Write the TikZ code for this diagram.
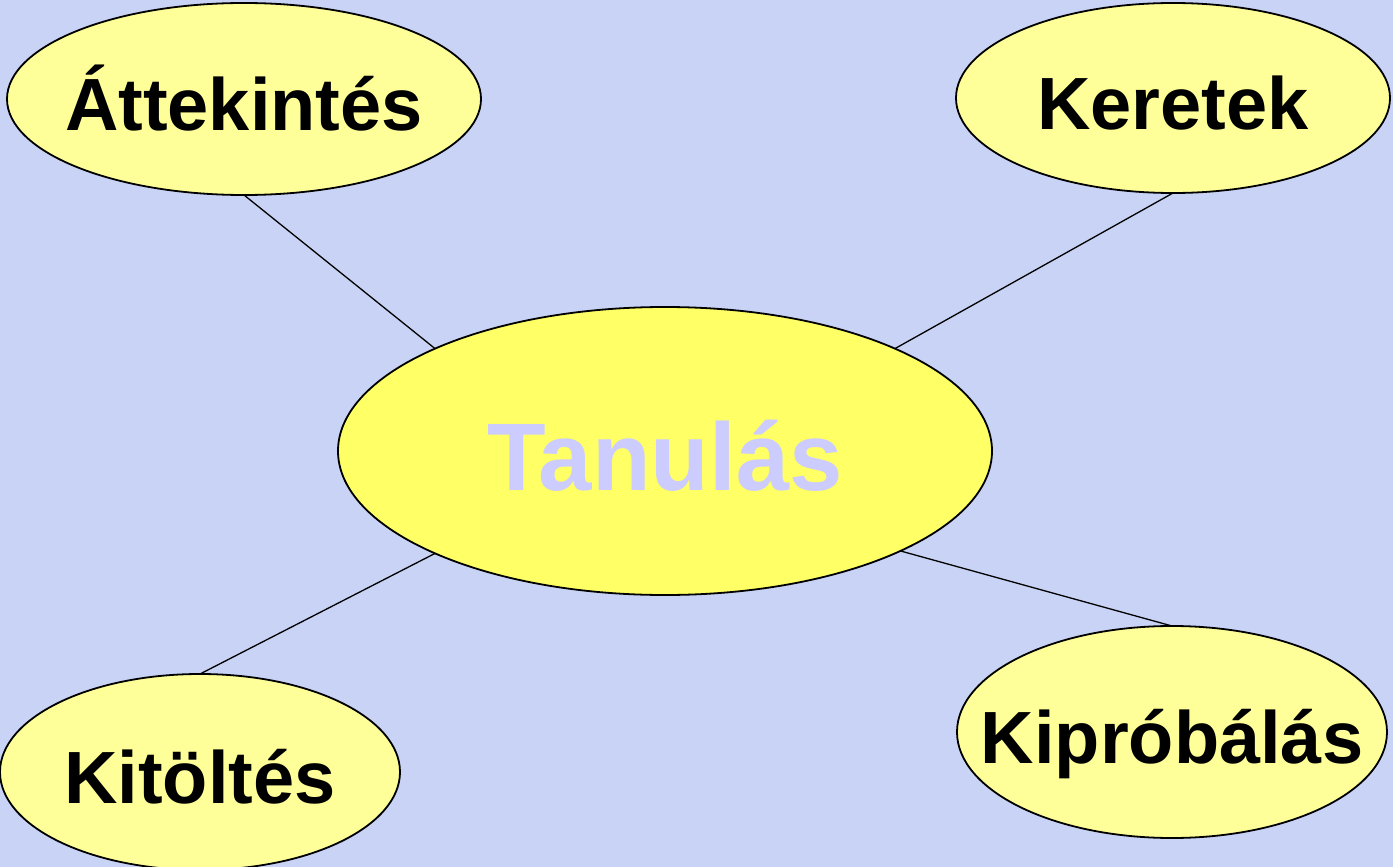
\documentclass[tikz,border=0pt]{standalone}
\usepackage{fontspec}
\setmainfont{Liberation Sans}
\usetikzlibrary{shapes.geometric}
\definecolor{bgblue}{RGB}{200,211,245}
\definecolor{palebubble}{RGB}{255,255,153}
\definecolor{mainbubble}{RGB}{255,255,102}
\definecolor{titlelilac}{RGB}{204,204,255}
\begin{document}
\begin{tikzpicture}[x=1pt,y=-1pt,line width=1.3pt,
	bubble/.style={ellipse,draw,line width=1.8pt,fill=palebubble,inner sep=0pt,outer sep=0pt},
	word/.style={font=\bfseries\fontsize{74}{80}\selectfont,text height=62pt,text depth=0pt,inner sep=0pt}]
		\fill[bgblue] (0,0) rectangle (1393,867);
		\useasboundingbox (0,0) rectangle (1393,867);
		\node[bubble,minimum width=474pt,minimum height=192pt,label={[word]center:Áttekintés}] (att) at (244,99) {};
		\node[bubble,minimum width=434pt,minimum height=190pt,label={[word]center:Keretek}] (ker) at (1173,98) {};
		\node[bubble,minimum width=400pt,minimum height=196pt,label={[word]center:Kitöltés}] (kit) at (200,772) {};
		\node[bubble,minimum width=430pt,minimum height=212pt,label={[word]center:Kipróbálás}] (kip) at (1172,732) {};
		\node[bubble,fill=mainbubble,minimum width=654pt,minimum height=288pt,label={[word,font=\bfseries\fontsize{96}{104}\selectfont,text=titlelilac,text height=78pt]center:Tanulás}] (tan) at (665,451) {};
		\draw (att.south) -- (tan.156);
		\draw (ker.south) -- (tan.24);
		\draw (tan.204) -- (kit.north);
		\draw (tan.337) -- (kip.north);
\end{tikzpicture}
\end{document}
